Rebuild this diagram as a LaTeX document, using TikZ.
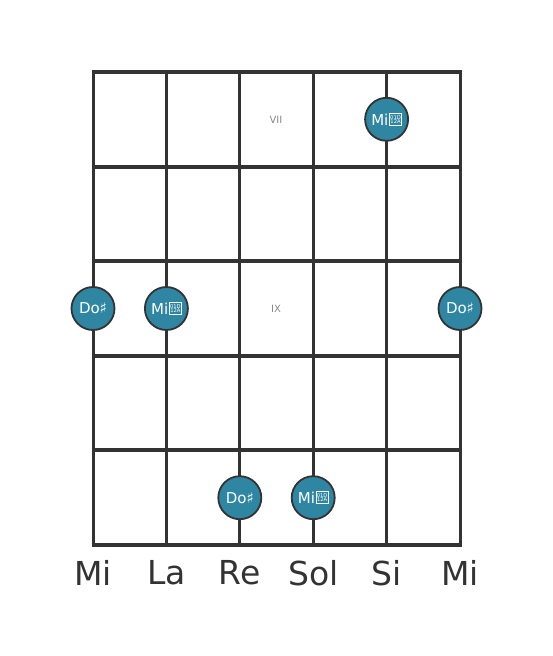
\documentclass[tikz,border=0pt]{standalone}
\usepackage{fontspec}
\setmainfont{DejaVu Sans}
\definecolor{linec}{HTML}{333333}
\definecolor{dotc}{HTML}{2E86A2}
\definecolor{lblc}{HTML}{888888}
\tikzset{
  fret/.style={draw=linec, line width=4pt},
  strg/.style={draw=linec, line width=3pt},
  dot/.style={circle, fill=dotc, draw=linec, line width=1.8pt, minimum size=43pt, inner sep=0pt, text=white, font=\fontsize{15}{15}\selectfont},
  fretlbl/.style={text=lblc, font=\fontsize{10}{10}\selectfont},
  strlbl/.style={text=linec, font=\fontsize{33}{33}\selectfont},
}
\newcommand{\tofu}{\hspace{0.8pt}{\setlength\fboxsep{0pt}\setlength\fboxrule{0.6pt}\fbox{\parbox[b][11.5pt][c]{11.5pt}{\centering\fontsize{5.2}{5.2}\selectfont 01D\\[-0.8pt]12A}}}}
\begin{document}
\begin{tikzpicture}[x=1pt,y=-1pt]
\useasboundingbox (0,0) rectangle (553,656);
% strings
\foreach \x/\n in {93/s1,166.4/s2,239.8/s3,313.2/s4,386.6/s5,460/s6}{
  \coordinate (\n t) at (\x,72);
  \coordinate (\n b) at (\x,545);
  \draw[strg] (\n t) -- (\n b);
}
% frets
\foreach \y/\n in {72/f0,166.6/f1,261.2/f2,355.8/f3,450.4/f4,545/f5}{
  \coordinate (\n l) at (93,\y);
  \coordinate (\n r) at (460,\y);
  \draw[fret] ([xshift=-1.5pt]\n l) -- ([xshift=1.5pt]\n r);
}
% fret labels
\node[fretlbl] (vii) at (276,120) {VII};
\node[fretlbl] (ix) at (276,309) {IX};
% dots
\node[dot] (d1) at (386.6,119.3) {Mi\tofu};
\node[dot] (d2) at (93,308.5) {Do♯};
\node[dot] (d3) at (166.4,308.5) {Mi\tofu};
\node[dot] (d4) at (460,308.5) {Do♯};
\node[dot] (d5) at (239.8,497.7) {Do♯};
\node[dot] (d6) at (313.2,497.7) {Mi\tofu};
% string labels
\node[strlbl] (l1) at (93,573) {Mi};
\node[strlbl] (l2) at (166.4,573) {La};
\node[strlbl] (l3) at (239.8,573) {Re};
\node[strlbl] (l4) at (313.2,573) {Sol};
\node[strlbl] (l5) at (386.6,573) {Si};
\node[strlbl] (l6) at (460,573) {Mi};
\end{tikzpicture}
\end{document}
